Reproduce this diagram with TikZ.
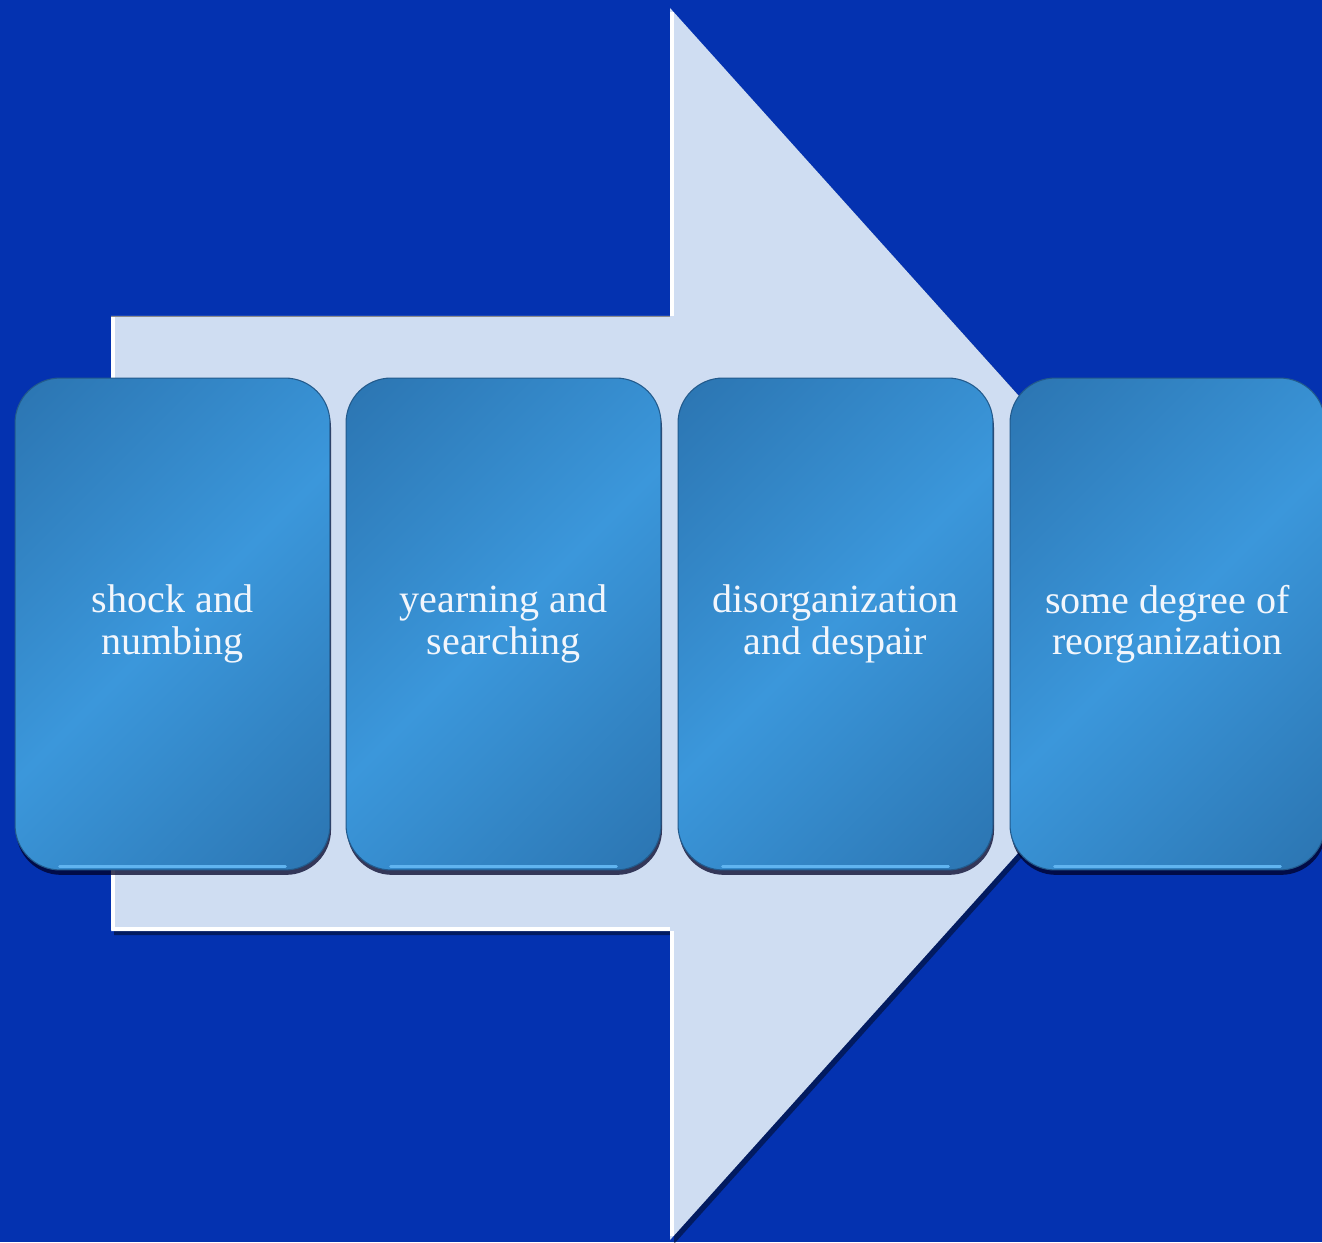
\documentclass[tikz,border=0pt]{standalone}
\usepackage{fontspec}
\setmainfont{Liberation Serif}
\usetikzlibrary{shadows}
\definecolor{bg}{RGB}{4,50,176}
\definecolor{arrowfill}{RGB}{207,221,242}
\definecolor{boxdk}{RGB}{42,114,174}
\definecolor{boxlt}{RGB}{59,151,219}
\definecolor{boxedge}{RGB}{34,90,140}
\definecolor{boxhl}{RGB}{96,180,240}
\definecolor{txt}{RGB}{242,246,252}
\pgfdeclarehorizontalshading{boxshade}{100bp}{color(0bp)=(boxdk); color(12bp)=(boxdk); color(50bp)=(boxlt); color(88bp)=(boxdk); color(100bp)=(boxdk)}
\tikzset{
  stage/.style={rectangle, rounded corners=0.9cm, minimum width=6.3cm, minimum height=9.84cm,
    shading=boxshade, shading angle=-45, draw=boxedge, line width=0.6pt,
    drop shadow={shadow xshift=0.6pt, shadow yshift=-2.8pt, opacity=0.75, fill=black!85!blue},
    align=center, text=txt, font=\fontsize{22.8}{23.6}\selectfont, inner sep=0pt},
  hilite/.style={boxhl, line width=1.6pt, line cap=round},
  edgewhite/.style={white, line width=2.2pt}
}
\begin{document}
\begin{tikzpicture}[x=0.02cm, y=0.02cm]
\useasboundingbox (0,0) rectangle (1322,1242);
\clip (0,0) rectangle (1322,1242);
\fill[bg] (0,0) rectangle (1322,1242);
% arrow shadow
\fill[black, opacity=0.45] (114,307) -- (114,922) -- (673,922) -- (673,1230) -- (1228,614) -- (674,-2) -- (674,307) -- cycle;
% arrow
\fill[arrowfill] (111,311) -- (111,926) -- (670,926) -- (670,1234) -- (1224,618) -- (670,2) -- (670,311) -- cycle;
\draw[edgewhite] (113,312) -- (113,925);
\draw[edgewhite] (112,313) -- (670,313);
\draw[edgewhite] (672,926) -- (672,1230);
\draw[edgewhite] (672,6) -- (672,311);
\draw[black!45, line width=0.5pt] (111,926) -- (670,926);
% stages
\node[stage] (s1) at (172.5,618) {shock and\\numbing};
\node[stage] (s2) at (503.5,618) {yearning and\\searching};
\node[stage] (s3) at (835.5,618) {disorganization\\and despair};
\node[stage] (s4) at (1167.5,618) {some degree of\\reorganization};
\foreach \n in {s1,s2,s3,s4}{
  \draw[hilite] ([xshift=0.9cm,yshift=2.2pt]\n.south west) -- ([xshift=-0.9cm,yshift=2.2pt]\n.south east);
}
\end{tikzpicture}
\end{document}
